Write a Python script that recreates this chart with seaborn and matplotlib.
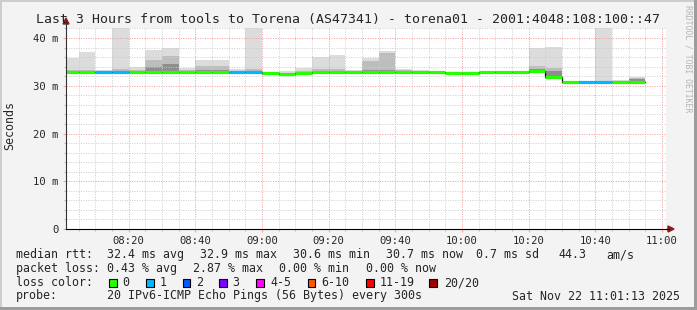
import matplotlib
matplotlib.use("Agg")
import numpy as np
import pandas as pd
import seaborn as sns
import matplotlib.pyplot as plt
from matplotlib.patches import Rectangle, Polygon

# ---------------- data ----------------
slot_start_min = [0, 5, 10, 15, 20, 25, 30, 35, 40, 45, 50, 55,
                  60, 65, 70, 75, 80, 85, 90, 95, 100, 105, 110, 115,
                  120, 125, 130, 135, 140, 145, 150, 155, 160, 165, 170]  # minutes after 08:00
median_ms = [32.85, 32.85, 32.85, 32.85, 32.85, 32.85, 32.85, 32.85, 32.85, 32.85, 32.85, 32.85,
             32.6, 32.4, 32.6, 32.85, 32.85, 32.85, 32.85, 32.85, 32.85, 32.8, 32.8, 32.75,
             32.6, 32.85, 32.85, 32.85, 33.0, 31.9, 30.7, 30.75, 30.75, 30.7, 30.7]
smoke_low = [32.6, 32.6, 32.6, 32.6, 32.6, 32.6, 32.6, 32.6, 32.6, 32.6, 32.6, 32.6,
             32.3, 32.1, 32.3, 32.6, 32.6, 32.6, 32.6, 32.6, 32.6, 32.5, 32.5, 32.5,
             32.3, 32.6, 32.6, 32.6, 32.7, 31.6, 30.5, 30.5, 30.5, 30.5, 30.5]
smoke_dark = [33.0, 33.0, 32.9, 33.0, 33.0, 34.0, 34.6, 33.0, 33.4, 33.4, 32.9, 33.0,
              32.6, 32.5, 32.7, 33.0, 33.0, 32.9, 33.2, 33.3, 33.0, 32.9, 32.85, 32.8,
              32.6, 32.85, 32.9, 32.9, 33.6, 33.0, 30.75, 30.8, 30.8, 30.8, 31.4]
smoke_mid = [33.3, 33.4, 33.0, 33.6, 33.2, 35.4, 36.3, 33.2, 34.2, 34.2, 33.0, 33.6,
             32.7, 32.7, 33.0, 33.6, 33.5, 33.0, 35.2, 36.8, 33.2, 33.0, 32.9, 32.85,
             32.7, 32.9, 33.0, 33.0, 34.2, 33.7, 30.85, 30.85, 31.0, 31.0, 31.6]
smoke_high = [35.9, 37.0, 33.2, 43.0, 34.0, 37.5, 37.9, 33.8, 35.5, 35.5, 33.6, 43.0,
              32.9, 33.1, 33.8, 36.1, 36.5, 33.3, 35.9, 37.2, 33.5, 33.3, 33.1, 32.9,
              32.8, 33.0, 33.1, 33.1, 37.9, 38.2, 31.0, 31.0, 43.0, 31.2, 31.9]
lost_pings = [0, 0, 1, 1, 0, 0, 0, 0, 0, 0, 1, 1,
              0, 0, 0, 0, 0, 0, 0, 0, 0, 0, 0, 0,
              0, 0, 0, 0, 0, 0, 0, 1, 1, 0, 0]

loss_labels = ["0", "1", "2", "3", "4-5", "6-10", "11-19", "20/20"]
loss_colors = ["#26ff00", "#00b8ff", "#0059ff", "#7e00ff", "#ff00ff", "#ff5500", "#ff0000", "#a10000"]
loss_upper = [0, 1, 2, 3, 5, 10, 19, 20]

x_tick_min = [20, 40, 60, 80, 100, 120, 140, 160, 180]
x_tick_labels = ["08:20", "08:40", "09:00", "09:20", "09:40", "10:00", "10:20", "10:40", "11:00"]
y_ticks = [0, 10, 20, 30, 40]
y_tick_labels = ["0", "10 m", "20 m", "30 m", "40 m"]

title = "Last 3 Hours from tools to Torena (AS47341) - torena01 - 2001:4048:108:100::47"
slot_len = 5
t_start = 1 + 13 / 60  # 08:01:13
t_end = t_start + 180

# ---------------- figure ----------------
sns.set_style("white")
plt.rcParams["font.family"] = ["DejaVu Sans Mono", "DejaVu Sans"]
W, H = 697, 310
BG = "#f3f3f3"
fig = plt.figure(figsize=(W / 100, H / 100), dpi=100, facecolor=BG)


def fx(px):
    return px / W


def fy(py):
    return 1 - py / H


ax = fig.add_axes([fx(66), fy(229), 600 / W, 201 / H])
ax.set_facecolor("white")

starts = np.array(slot_start_min, dtype=float)
low = np.array(smoke_low)
for top, col in [(smoke_high, "#dcdcdc"), (smoke_mid, "#bdbdbd"), (smoke_dark, "#8e8e8e")]:
    top = np.array(top)
    ax.bar(starts, top - low, bottom=low, width=slot_len, align="edge",
           color=col, linewidth=0, zorder=1)

# median: black step line under colored segments
step_x = list(slot_start_min) + [slot_start_min[-1] + slot_len]
step_y = list(median_ms) + [median_ms[-1]]
df = pd.DataFrame({"t": step_x, "rtt": step_y})
sns.lineplot(data=df, x="t", y="rtt", ax=ax, drawstyle="steps-post", color="black",
             linewidth=0.9, estimator=None, zorder=3)


def loss_col(n):
    for up, c in zip(loss_upper, loss_colors):
        if n <= up:
            return c
    return loss_colors[-1]


seg_colors = [loss_col(n) for n in lost_pings]
ax.hlines(median_ms, starts, starts + slot_len, colors=seg_colors, linewidth=2.3, zorder=4)

ax.set_xlim(t_start, t_end)
ax.set_ylim(0, 42.1)
ax.set_xlabel("")
ax.set_ylabel("")

ax.set_xticks(x_tick_min)
ax.set_xticklabels(x_tick_labels)
ax.set_xticks(np.arange(5, 181, 5), minor=True)
ax.set_yticks(y_ticks)
ax.set_yticklabels(y_tick_labels)
ax.set_yticks(np.arange(2, 42.1, 2), minor=True)

ax.set_axisbelow(False)
ax.grid(which="minor", color="#cccccc", linestyle=(0, (1, 1.5)), linewidth=0.7)
ax.grid(which="major", color="#f29a9a", linestyle=(0, (1, 1.5)), linewidth=0.7)

ax.tick_params(axis="both", which="major", length=2.5, width=0.7, color="#f29a9a",
               labelsize=7.6, pad=3, direction="out")
ax.tick_params(axis="both", which="minor", length=1.5, width=0.7, color="#bbbbbb")
ax.tick_params(axis="x", which="major", pad=2.5)
ax.tick_params(left=True, bottom=True, which="both")

for s in ["top", "right"]:
    ax.spines[s].set_visible(False)
ax.spines["left"].set_color("#333333")
ax.spines["bottom"].set_color("black")
ax.spines["left"].set_linewidth(0.8)
ax.spines["bottom"].set_linewidth(0.8)
ax.spines["left"].set_zorder(5)
ax.spines["bottom"].set_zorder(5)

# axis extensions and arrows
fig.add_artist(plt.Line2D([fx(66), fx(66)], [fy(28), fy(22)], color="#333333", lw=0.8))
fig.add_artist(plt.Line2D([fx(666), fx(669)], [fy(229), fy(229)], color="black", lw=0.8))
fig.add_artist(Polygon([(fx(63), fy(24)), (fx(69), fy(24)), (fx(66), fy(18))],
                       closed=True, transform=fig.transFigure, color="#8b1a1a"))
fig.add_artist(Polygon([(fx(668), fy(226)), (fx(668), fy(232)), (fx(674), fy(229))],
                       closed=True, transform=fig.transFigure, color="#8b1a1a"))

# ---------------- texts ----------------
mono = "DejaVu Sans Mono"
fig.text(fx(348), fy(19), title, ha="center", va="center", fontsize=9.55, family=mono)
fig.text(fx(10), fy(126), "Seconds", rotation=90, ha="center", va="center",
         fontsize=8.4, family=mono)
fig.text(fx(688), fy(59), "RRDTOOL / TOBI OETIKER", rotation=270, ha="center", va="center",
         fontsize=5.9, family=mono, color="#b5b5b5")

FS = 8.4
line1 = [(16, "median rtt:"), (107.3, "32.4 ms avg"), (200, "32.9 ms max"),
         (293.3, "30.6 ms min"), (386, "30.7 ms now"), (476, "0.7 ms sd"),
         (558.3, "44.3"), (606.7, "am/s")]
line2 = [(16, "packet loss:"), (107.3, "0.43 % avg"), (193, "2.87 % max"),
         (279, "0.00 % min"), (366, "0.00 % now")]
for x, s in line1:
    fig.text(fx(x), fy(254.5), s, ha="left", va="center", fontsize=FS, family=mono)
for x, s in line2:
    fig.text(fx(x), fy(268.5), s, ha="left", va="center", fontsize=FS, family=mono)

fig.text(fx(16), fy(282.5), "loss color:", ha="left", va="center", fontsize=FS, family=mono)
sq_x = [109.3, 146, 182.7, 219.3, 256, 307.7, 366, 429.3]
lab_x = [122.7, 159.3, 196, 232.7, 270, 321, 379.3, 444.3]
for sx, lx, lab, col in zip(sq_x, lab_x, loss_labels, loss_colors):
    fig.add_artist(Rectangle((fx(sx), fy(286.5)), 7.5 / W, 7.5 / H, transform=fig.transFigure,
                             facecolor=col, edgecolor="black", linewidth=0.8))
    fig.text(fx(lx), fy(282.5), lab, ha="left", va="center", fontsize=FS, family=mono)

fig.text(fx(16), fy(296), "probe:", ha="left", va="center", fontsize=FS, family=mono)
fig.text(fx(107.3), fy(296), "20 IPv6-ICMP Echo Pings (56 Bytes) every 300s",
         ha="left", va="center", fontsize=FS, family=mono)
fig.text(fx(680.5), fy(296), "Sat Nov 22 11:01:13 2025", ha="right", va="center",
         fontsize=FS, family=mono)

# image frame (3D shade like rrdtool)
fig.add_artist(Rectangle((0, 0), 2 / W, 1, transform=fig.transFigure, color="#cdcdcd", lw=0))
fig.add_artist(Rectangle((0, 1 - 2 / H), 1, 2 / H, transform=fig.transFigure, color="#cdcdcd", lw=0))
fig.add_artist(Rectangle((1 - 3 / W, 0), 3 / W, 1, transform=fig.transFigure, color="#9c9c9c", lw=0))
fig.add_artist(Rectangle((0, 0), 1, 3 / H, transform=fig.transFigure, color="#9c9c9c", lw=0))

fig.savefig("out.png", dpi=100, facecolor=BG)
